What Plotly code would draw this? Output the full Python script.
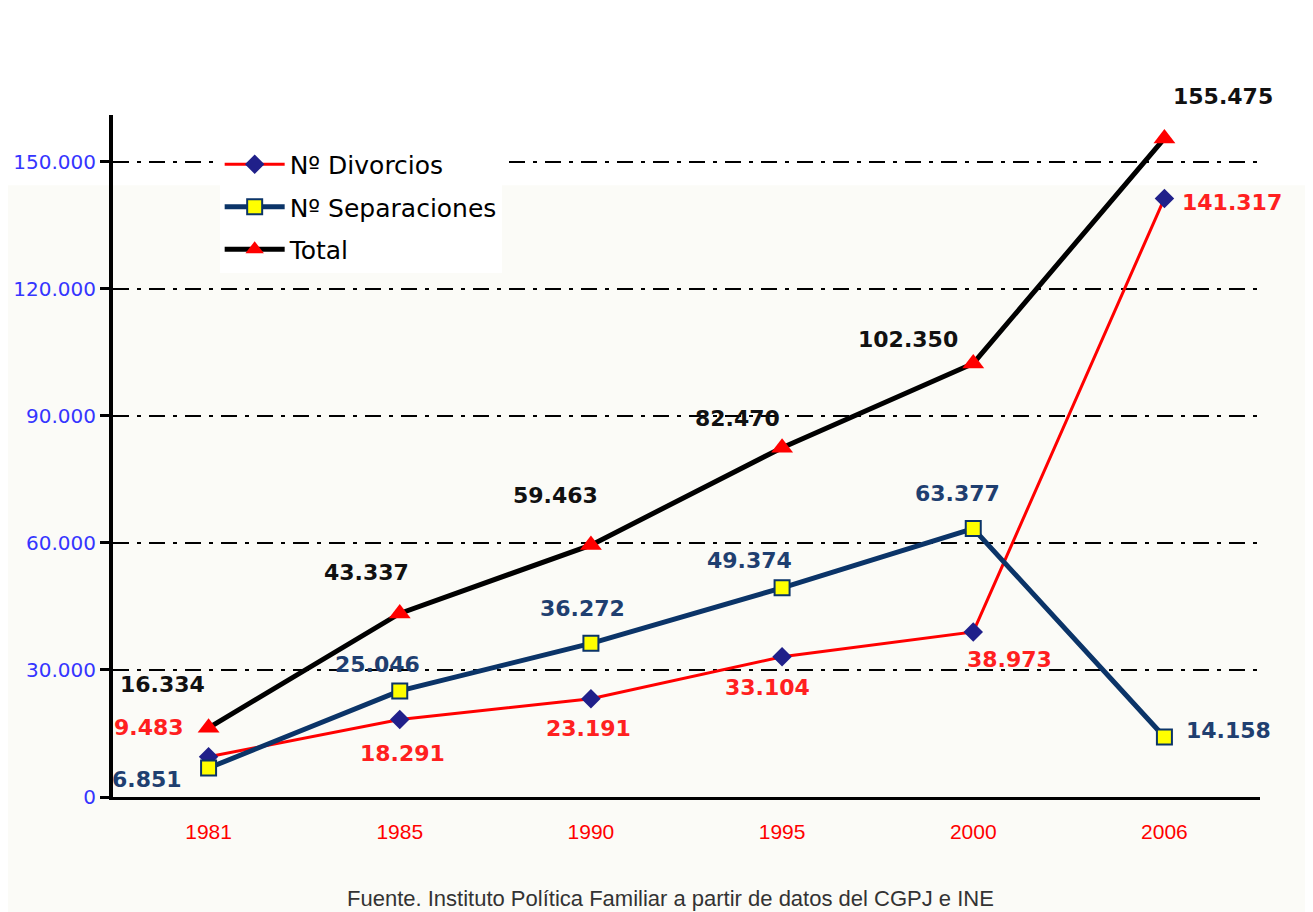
import plotly.graph_objects as go

years = ["1981", "1985", "1990", "1995", "2000", "2006"]
divorcios = [9483, 18291, 23191, 33104, 38973, 141317]
separaciones = [6851, 25046, 36272, 49374, 63377, 14158]
total = [16334, 43337, 59463, 82470, 102350, 155475]
y_ticks = [0, 30000, 60000, 90000, 120000, 150000]
y_tick_text = ["0", "30.000", "60.000", "90.000", "120.000", "150.000"]
source_text = "Fuente. Instituto Política Familiar a partir de datos del CGPJ e INE"

# label offsets in pixels (style only)
off_total = [(-46, 43), (-33, 41), (-35, 50), (-45, 29), (-65, 24), (59, 42)]
off_sep = [(-62, -12), (-22, 26), (-8, 35), (-33, 27), (-16, 35), (64, 7)]
off_div = [(-60, 29), (3, -34), (-2, -30), (-15, -31), (36, -28), (68, -4)]

def fmt(v):
    return f"{v:,}".replace(",", ".")

NAVY = "#0b3468"
RED = "#ff0000"

fig = go.Figure()
fig.add_trace(go.Scatter(
    x=years, y=divorcios, name="Nº Divorcios", mode="lines+markers",
    line=dict(color=RED, width=3),
    marker=dict(symbol="diamond", size=15, color="#20208a", line=dict(width=0)),
    legendgroup="a"))
fig.add_trace(go.Scatter(
    x=years, y=separaciones, name="Nº Separaciones", mode="lines+markers",
    line=dict(color=NAVY, width=5),
    marker=dict(symbol="square", size=15, color="#ffff00", line=dict(color=NAVY, width=2)),
    legendgroup="b"))
fig.add_trace(go.Scatter(
    x=years, y=total, name="Total", mode="lines+markers",
    line=dict(color="black", width=5),
    marker=dict(symbol="triangle-up", size=19, color=RED, line=dict(width=0)),
    legendgroup="c"))

annots = []
lab_font = dict(family="DejaVu Sans", size=22)
for vals, offs, col in [(total, off_total, "#111111"), (separaciones, off_sep, "#1f3f70"), (divorcios, off_div, "#ff2020")]:
    for i, (v, (dx, dy)) in enumerate(zip(vals, offs)):
        annots.append(dict(x=i, y=v, xref="x", yref="y", text="<b>" + fmt(v) + "</b>", showarrow=False,
                           xshift=dx, yshift=dy, font=dict(color=col, **lab_font)))
annots.append(dict(x=0.486, y=-0.149, xref="paper", yref="paper", text=source_text, showarrow=False,
                   yanchor="middle", font=dict(family="Liberation Sans", size=22, color="#333333")))

fig.update_layout(
    width=1305, height=904,
    margin=dict(l=105, r=53, t=107, b=115),
    paper_bgcolor="#fbfbf7",
    plot_bgcolor="#fbfbf7",
    showlegend=True,
    legend=dict(x=0.093, y=0.961, xanchor="left", yanchor="top",
                bgcolor="#ffffff", font=dict(family="DejaVu Sans", size=25, color="black"),
                tracegroupgap=7, itemwidth=60, borderwidth=0),
    annotations=annots,
    shapes=[dict(type="rect", xref="paper", yref="paper", x0=-0.2, x1=1.1, y0=0.897, y1=1.2,
                 fillcolor="white", line=dict(width=0), layer="below")],
)
fig.update_xaxes(
    type="category", range=[-0.5, 5.5], showgrid=False, automargin=False,
    showline=True, linecolor="black", linewidth=3,
    ticks="", ticklabelstandoff=14,
    tickfont=dict(family="Liberation Sans", size=21, color=RED),
)
fig.update_yaxes(
    range=[0, 161000], tickvals=y_ticks, ticktext=y_tick_text, automargin=False,
    showgrid=True, gridcolor="black", gridwidth=2, griddash="16px,8px,4px,8px",
    zeroline=False, showline=True, linecolor="black", linewidth=4,
    ticks="outside", ticklen=9, tickwidth=3, tickcolor="black",
    tickfont=dict(family="DejaVu Sans", size=20, color="#3535ff"),
)
fig.write_html("out.html")
